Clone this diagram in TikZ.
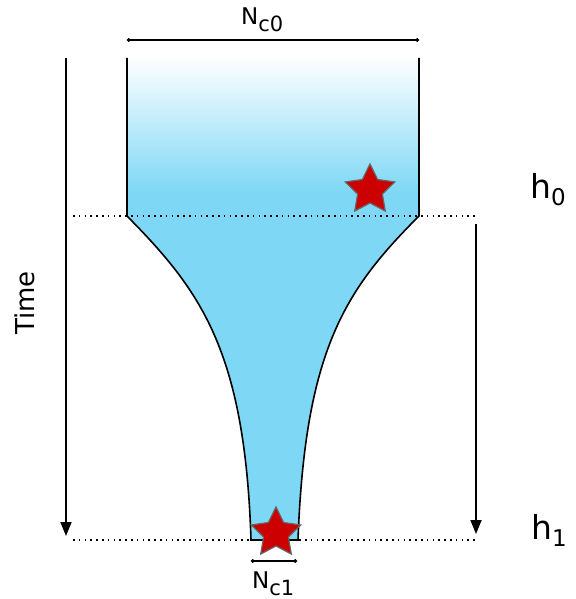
\documentclass[tikz,border=0pt]{standalone}
\usepackage{fontspec}
\setmainfont{DejaVu Sans}
\usetikzlibrary{shapes.geometric,arrows.meta}
\definecolor{water}{RGB}{126,216,245}
\definecolor{starred}{RGB}{204,0,0}
\newcommand{\hsub}[2]{{\fontsize{33}{35}\selectfont #1}\raisebox{-7pt}{\fontsize{23}{25}\selectfont #2}}
\newcommand{\nsub}[2]{{\fontsize{23}{25}\selectfont #1}\raisebox{-7pt}{\fontsize{21}{23}\selectfont #2}}
\tikzset{
  wall/.style={line width=1.6pt, black},
  dimline/.style={line width=1.3pt, {Circle[length=3.5pt]}-{Circle[length=3.5pt]}},
  timearrow/.style={line width=1.8pt, -{Triangle[length=14pt,width=11pt]}},
  level/.style={line width=1.6pt, dash pattern=on 1.6pt off 4.2pt},
  marker/.style={star, star points=5, star point ratio=2.0, minimum size=52pt, inner sep=0pt, fill=starred, draw=gray!80!black, line width=1.2pt},
  lbl/.style={inner sep=0pt, anchor=base west},
}
\begin{document}
\begin{tikzpicture}[x=1pt,y=-1pt]
\useasboundingbox (0,0) rectangle (575,599);
% vessel fill
\begin{scope}
  \clip (127,58) -- (127,216) .. controls (200,290) and (245,350) .. (251,540) -- (298,540) .. controls (305,350) and (345,290) .. (419,216) -- (419,58) -- cycle;
  \fill[water] (120,58) rectangle (425,545);
  \shade[top color=white, bottom color=water] (120,56) rectangle (425,192);
\end{scope}
\draw[wall] (127,58) -- (127,216) .. controls (200,290) and (245,350) .. (251,540) -- (298,540) .. controls (305,350) and (345,290) .. (419,216) -- (419,58);
% coordinates
\coordinate (nc0l) at (127,40);
\coordinate (nc0r) at (419,40);
\coordinate (nc1l) at (251,561);
\coordinate (nc1r) at (297,561);
\coordinate (t0) at (66,58);
\coordinate (t1) at (66,536);
\coordinate (r0) at (476,224);
\coordinate (r1) at (476,534);
\coordinate (l0a) at (73,216);
\coordinate (l0b) at (478,216);
\coordinate (l1a) at (73,540);
\coordinate (l1b) at (478,540);
% level lines
\draw[level] (l0a) -- (l0b);
\draw[level] (l1a) -- (l1b);
% dimensions
\draw[dimline] (nc0l) -- (nc0r);
\draw[dimline] (nc1l) -- (nc1r);
\node[lbl] (lnc0) at (241,25) {\nsub{N}{c0}};
\node[lbl] (lnc1) at (252,588) {\nsub{N}{c1}};
% arrows
\draw[timearrow] (t0) -- (t1);
\draw[timearrow] (r0) -- (r1);
\node[inner sep=0pt, rotate=90, font=\fontsize{26}{28}\selectfont] (time) at (25,303) {Time};
\node[lbl] (h0) at (530,198) {\hsub{h}{0}};
\node[lbl] (h1) at (531,539) {\hsub{h}{1}};
% stars
\node[marker] (s0) at (370,190) {};
\node[marker] (s1) at (276,533) {};
\end{tikzpicture}
\end{document}
